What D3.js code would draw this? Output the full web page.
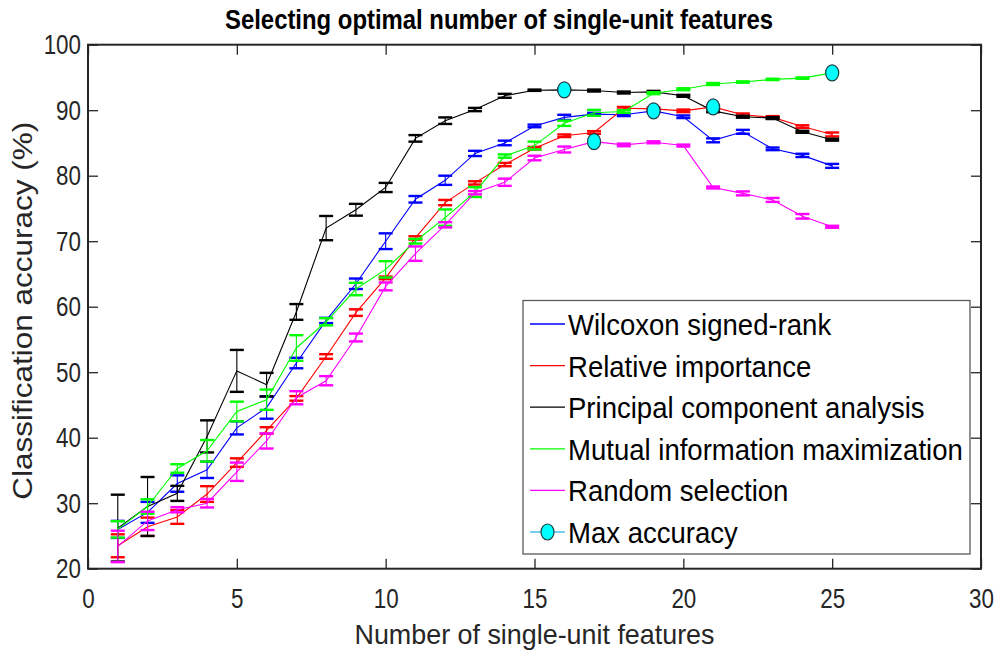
<!DOCTYPE html>
<html>
<head>
<meta charset="utf-8">
<script src="https://cdn.jsdelivr.net/npm/d3@7"></script>
<style>
  body { margin: 0; background: #fff; }
  svg { display: block; font-family: "Liberation Sans", Arial, sans-serif; }
</style>
</head>
<body>
<svg id="chart" width="998" height="655"></svg>
<script>
// number of features on the x axis
const features = d3.range(1, 26);

// mean accuracy (%) and error half-widths
const wilcoxon    = [26.0, 28.6, 33.0, 35.1, 41.5, 44.6, 51.4, 57.9, 63.5, 70.0, 76.4, 79.3, 83.4, 85.0, 87.6, 88.9, 89.4, 89.3, 89.9, 89.0, 85.4, 86.7, 84.1, 83.1, 81.5];
const wilcoxonErr = [1.3, 1.6, 1.25, 1.25, 1.0, 1.7, 0.8, 0.4, 0.8, 1.2, 0.5, 0.7, 0.4, 0.35, 0.2, 0.4, 0.2, 0.2, 0.2, 0.2, 0.3, 0.3, 0.2, 0.25, 0.3];

const relImp    = [23.5, 26.4, 27.9, 31.4, 36.2, 41.1, 46.0, 52.4, 59.1, 64.4, 70.5, 75.9, 78.9, 81.7, 84.2, 86.1, 86.6, 90.3, 90.2, 89.9, 90.5, 89.3, 88.9, 87.5, 86.3];
const relImpErr = [1.75, 1.4, 1.05, 1.2, 0.65, 0.5, 0.35, 0.35, 0.5, 0.2, 0.25, 0.4, 0.25, 0.25, 0.2, 0.2, 0.2, 0.2, 0.2, 0.2, 0.2, 0.2, 0.2, 0.2, 0.3];

const pca    = [26.2, 29.5, 31.5, 40.2, 50.2, 48.1, 59.2, 72.0, 74.8, 78.2, 85.7, 88.4, 90.1, 92.2, 93.05, 93.1, 93.0, 92.7, 92.8, 92.2, 89.9, 89.0, 88.8, 86.7, 85.5];
const pcaErr = [5.1, 4.5, 1.15, 2.45, 3.2, 1.8, 1.2, 1.85, 0.9, 0.7, 0.5, 0.5, 0.25, 0.3, 0.1, 0.15, 0.15, 0.15, 0.15, 0.15, 0.2, 0.15, 0.15, 0.15, 0.15];

const mutInfo    = [26.0, 29.5, 35.3, 38.0, 44.0, 45.8, 53.7, 57.7, 62.7, 65.7, 70.0, 73.6, 77.5, 83.0, 84.6, 88.0, 89.6, 89.8, 92.6, 93.2, 94.0, 94.3, 94.7, 94.9, 95.7];
const mutInfoErr = [1.25, 1.1, 0.65, 1.65, 1.5, 1.55, 1.95, 0.55, 0.95, 1.25, 0.35, 1.25, 0.75, 0.25, 0.6, 0.4, 0.45, 0.2, 0.15, 0.15, 0.15, 0.1, 0.1, 0.1, 0.15];

const randomSel    = [23.4, 27.3, 29.0, 30.0, 34.8, 39.5, 46.1, 48.7, 55.3, 63.1, 68.1, 72.5, 77.4, 79.0, 82.7, 84.0, 85.2, 84.7, 85.1, 84.6, 78.2, 77.3, 76.3, 73.8, 72.2];
const randomSelErr = [2.4, 1.4, 0.4, 0.65, 1.4, 1.15, 1.0, 0.7, 0.6, 0.6, 1.1, 0.4, 0.25, 0.55, 0.35, 0.45, 0.2, 0.2, 0.15, 0.15, 0.15, 0.3, 0.3, 0.35, 0.15];

const seriesNames = ["Wilcoxon signed-rank", "Relative importance", "Principal component analysis",
                     "Mutual information maximization", "Random selection"];
const seriesColors = ["#0000ff", "#ff0000", "#000000", "#00ff00", "#ff00ff"];
const xTicks = [0, 5, 10, 15, 20, 25, 30];
const yTicks = [20, 30, 40, 50, 60, 70, 80, 90, 100];

const series = [
  { name: seriesNames[0], color: seriesColors[0], values: wilcoxon,  err: wilcoxonErr },
  { name: seriesNames[1], color: seriesColors[1], values: relImp,    err: relImpErr },
  { name: seriesNames[2], color: seriesColors[2], values: pca,       err: pcaErr },
  { name: seriesNames[3], color: seriesColors[3], values: mutInfo,   err: mutInfoErr },
  { name: seriesNames[4], color: seriesColors[4], values: randomSel, err: randomSelErr }
];

const plotLeft = 88, plotRight = 981, plotTop = 44.7, plotBottom = 568.7;
const capW = 7;
const tickScale = 0.8;

const x = d3.scaleLinear().domain([0, 30]).range([plotLeft, plotRight]);
const y = d3.scaleLinear().domain([20, 100]).range([plotBottom, plotTop]);

const svg = d3.select("#chart");

// title
svg.append("text")
  .attr("x", 499)
  .attr("y", 29)
  .attr("text-anchor", "middle")
  .attr("textLength", 548)
  .attr("lengthAdjust", "spacingAndGlyphs")
  .style("font-size", "27px")
  .style("font-weight", "bold")
  .text("Selecting optimal number of single-unit features");

// axes, ticks inside like matlab
const axisStyle = g => {
  g.select(".domain").remove();
  g.selectAll(".tick line").attr("stroke", "#262626").attr("stroke-width", 1.3);
  g.selectAll(".tick text").attr("fill", "#262626").style("font-size", "28px");
};

svg.append("g")
  .attr("transform", `translate(0,${plotBottom})`)
  .call(d3.axisBottom(x).tickValues(xTicks).tickSize(-10).tickPadding(19))
  .call(axisStyle)
  .call(g => g.selectAll(".tick text").attr("transform", `scale(${tickScale},1)`));

svg.append("g")
  .attr("transform", `translate(0,${plotTop})`)
  .call(d3.axisTop(x).tickValues(xTicks).tickSize(-10).tickFormat(""))
  .call(axisStyle);

svg.append("g")
  .attr("transform", `translate(${plotLeft},0)`)
  .call(d3.axisLeft(y).tickValues(yTicks).tickSize(-10))
  .call(axisStyle)
  .call(g => g.selectAll(".tick text")
    .attr("x", -7 / tickScale)
    .attr("transform", `scale(${tickScale},1)`));

svg.append("g")
  .attr("transform", `translate(${plotRight},0)`)
  .call(d3.axisRight(y).tickValues(yTicks).tickSize(-10).tickFormat(""))
  .call(axisStyle);

svg.append("rect")
  .attr("x", plotLeft).attr("y", plotTop)
  .attr("width", plotRight - plotLeft).attr("height", plotBottom - plotTop)
  .attr("fill", "none")
  .attr("stroke", "#262626")
  .attr("stroke-width", 2);

// axis labels
svg.append("text")
  .attr("x", (plotLeft + plotRight) / 2)
  .attr("y", 644)
  .attr("text-anchor", "middle")
  .attr("textLength", 360)
  .attr("lengthAdjust", "spacingAndGlyphs")
  .attr("fill", "#262626")
  .style("font-size", "28px")
  .text("Number of single-unit features");

svg.append("text")
  .attr("transform", `translate(32,${(plotTop + plotBottom) / 2 + 4}) rotate(-90)`)
  .attr("text-anchor", "middle")
  .attr("textLength", 378)
  .attr("lengthAdjust", "spacingAndGlyphs")
  .attr("fill", "#262626")
  .style("font-size", "28px")
  .text("Classification accuracy (%)");

// series with error bars
const plot = svg.append("g");
const line = d3.line()
  .x((d, i) => x(features[i]))
  .y(d => y(d));

series.forEach(s => {
  const g = plot.append("g");
  g.append("path")
    .datum(s.values)
    .attr("d", line)
    .attr("fill", "none")
    .attr("stroke", s.color)
    .attr("stroke-width", 1.1);

  const bars = g.selectAll("g.bar")
    .data(s.values.map((v, i) => ({ x: features[i], v: v, e: s.err[i] })))
    .enter().append("g")
    .attr("class", "bar");

  bars.append("line")
    .attr("x1", d => x(d.x)).attr("x2", d => x(d.x))
    .attr("y1", d => y(d.v - d.e)).attr("y2", d => y(d.v + d.e))
    .attr("stroke", s.color).attr("stroke-width", 1.1);
  [-1, 1].forEach(sign => {
    bars.append("line")
      .attr("x1", d => x(d.x) - capW).attr("x2", d => x(d.x) + capW)
      .attr("y1", d => y(d.v + sign * d.e)).attr("y2", d => y(d.v + sign * d.e))
      .attr("stroke", s.color).attr("stroke-width", 2.4);
  });
});

// max accuracy markers
series.forEach(s => {
  const i = d3.maxIndex(s.values);
  plot.append("ellipse")
    .attr("cx", x(features[i]))
    .attr("cy", y(s.values[i]))
    .attr("rx", 6.5).attr("ry", 8)
    .attr("fill", "#00ffff")
    .attr("stroke", "#1f3f46")
    .attr("stroke-width", 1.2);
});

// legend
const legend = svg.append("g");
legend.append("rect")
  .attr("x", 523).attr("y", 300.5)
  .attr("width", 447).attr("height", 253.5)
  .attr("fill", "#fff")
  .attr("stroke", "#5a5a5a")
  .attr("stroke-width", 1.3);

const legendItems = seriesNames.map((n, i) => ({ name: n, color: seriesColors[i] }))
  .concat([{ name: "Max accuracy", color: "#4dbeee", marker: true }]);

legendItems.forEach((d, i) => {
  const ly = 324 + i * 41.6;
  legend.append("line")
    .attr("x1", 530).attr("x2", 565)
    .attr("y1", ly).attr("y2", ly)
    .attr("stroke", d.color).attr("stroke-width", 1.3);
  if (d.marker) {
    legend.append("ellipse")
      .attr("cx", 547.5).attr("cy", ly)
      .attr("rx", 6.5).attr("ry", 8)
      .attr("fill", "#00ffff")
      .attr("stroke", "#1f3f46")
      .attr("stroke-width", 1.2);
  }
  legend.append("text")
    .attr("transform", `translate(568,${ly + 11}) scale(0.95,1)`)
    .style("font-size", "29px")
    .attr("fill", "#000")
    .text(d.name);
});
</script>
</body>
</html>
